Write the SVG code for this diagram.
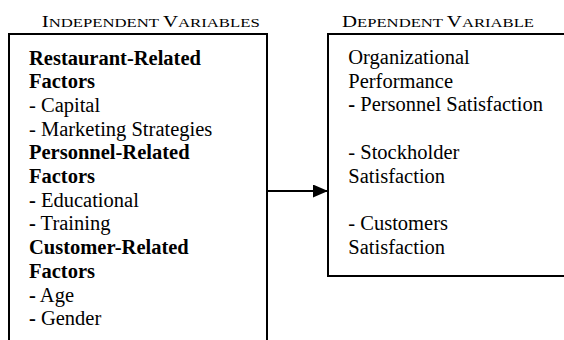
<svg xmlns="http://www.w3.org/2000/svg" width="564" height="340" viewBox="0 0 564 340">
<style>
.box{fill:#fff;stroke:#000;stroke-width:2}
.t{font-family:"Liberation Serif","Times New Roman",serif;font-size:20.5px;fill:#000}
.b{font-weight:bold}
.h{font-family:"Liberation Serif","Times New Roman",serif;fill:#000}
.conn{stroke:#000;stroke-width:2;fill:none}
</style>
<defs>
<marker id="arr" markerWidth="16" markerHeight="14" refX="15" refY="6.5" orient="auto" markerUnits="userSpaceOnUse">
<path d="M0,0 L15,6.5 L0,13 Z" fill="#000"/>
</marker>
</defs>
<g id="header-independent">
<text class="h" x="41.7" y="26.7" textLength="218" lengthAdjust="spacingAndGlyphs"><tspan font-size="16">I</tspan><tspan font-size="12.8">NDEPENDENT </tspan><tspan font-size="16">V</tspan><tspan font-size="12.8">ARIABLES</tspan></text>
</g>
<g id="header-dependent">
<text class="h" x="342" y="26.7" textLength="192" lengthAdjust="spacingAndGlyphs"><tspan font-size="16">D</tspan><tspan font-size="12.8">EPENDENT </tspan><tspan font-size="16">V</tspan><tspan font-size="12.8">ARIABLE</tspan></text>
</g>
<g id="independent-variables">
<rect class="box" x="9" y="34" width="258" height="330"/>
<text class="t" x="29" y="64.5">
<tspan class="b" x="29" y="64.5">Restaurant-Related</tspan>
<tspan class="b" x="29" y="88.2">Factors</tspan>
<tspan x="29" y="111.9">- Capital</tspan>
<tspan x="29" y="135.6">- Marketing Strategies</tspan>
<tspan class="b" x="29" y="159.3">Personnel-Related</tspan>
<tspan class="b" x="29" y="183">Factors</tspan>
<tspan x="29" y="206.7"><tspan class="b">-</tspan> Educational</tspan>
<tspan x="29" y="230.4"><tspan class="b">-</tspan> Training</tspan>
<tspan class="b" x="29" y="254.1">Customer-Related</tspan>
<tspan class="b" x="29" y="277.8">Factors</tspan>
<tspan x="29" y="301.5"><tspan class="b">-</tspan> Age</tspan>
<tspan x="29" y="325.2"><tspan class="b">-</tspan> Gender</tspan>
</text>
</g>
<g id="dependent-variable">
<rect class="box" x="328" y="34" width="250" height="242"/>
<text class="t">
<tspan x="348.3" y="64">Organizational</tspan>
<tspan x="348.3" y="87.7">Performance</tspan>
<tspan x="348.3" y="111.4"><tspan class="b">-</tspan> Personnel Satisfaction</tspan>
<tspan x="348.3" y="158.8">- Stockholder</tspan>
<tspan x="348.3" y="182.5">Satisfaction</tspan>
<tspan x="348.3" y="229.9">- Customers</tspan>
<tspan x="348.3" y="253.6">Satisfaction</tspan>
</text>
</g>
<g id="connectors">
<line class="conn" x1="267" y1="191" x2="328" y2="191" marker-end="url(#arr)"/>
</g>
</svg>
